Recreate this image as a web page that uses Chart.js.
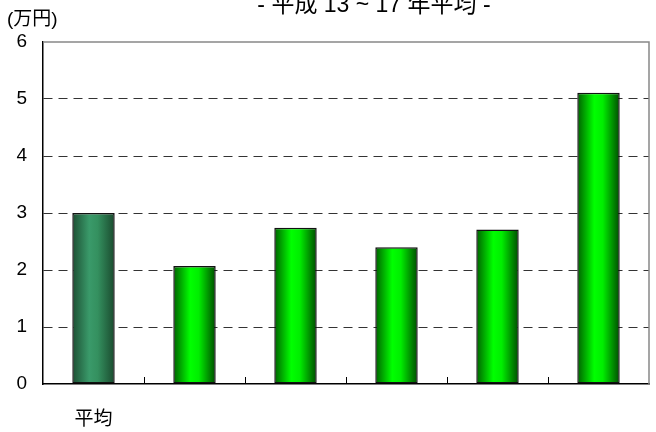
<!DOCTYPE html>
<html>
<head>
<meta charset="utf-8">
<script src="https://cdn.jsdelivr.net/npm/chart.js@4/dist/chart.umd.min.js"></script>
<style>
  html, body { margin: 0; padding: 0; background: #fff; }
</style>
</head>
<body>
<canvas id="avgChart" width="656" height="432"></canvas>
<script>
const categories = ["平均", "", "", "", "", ""];
const values = [3.0, 2.07, 2.74, 2.4, 2.71, 5.11];
const yTicks = [0, 1, 2, 3, 4, 5, 6];
const titleText = "- 平成 13 ~ 17 年平均 -";
const unitText = "(万円)";

const FONT = "'Liberation Sans Narrow', 'Liberation Sans', 'Noto Sans CJK JP', sans-serif";

// horizontal "cylinder" gradient for each bar
function barGradient(context) {
  const chart = context.chart;
  const x = chart.scales.x;
  if (!x || !chart.chartArea) return "#00dd00";
  const cx = x.getPixelForValue(context.dataIndex);
  const half = (x.width / categories.length) * 0.42 / 2;
  const g = chart.ctx.createLinearGradient(cx - half, 0, cx + half, 0);
  if (context.dataIndex === 0) {
    g.addColorStop(0, "#1c4f33");
    g.addColorStop(0.4, "#3a9a6a");
    g.addColorStop(0.6, "#34905f");
    g.addColorStop(1, "#1a4a2e");
  } else {
    g.addColorStop(0, "#006000");
    g.addColorStop(0.4, "#00ff00");
    g.addColorStop(0.6, "#00ee00");
    g.addColorStop(1, "#004c00");
  }
  return g;
}

// frame, inside category ticks, title and unit label
const decorations = {
  id: "decorations",
  afterDatasetsDraw(chart) {
    const { ctx, chartArea } = chart;
    const x = chart.scales.x;
    ctx.save();
    // gray top / right frame
    ctx.strokeStyle = "#888";
    ctx.lineWidth = 1.5;
    ctx.beginPath();
    ctx.moveTo(chartArea.left, chartArea.top);
    ctx.lineTo(chartArea.right, chartArea.top);
    ctx.lineTo(chartArea.right, chartArea.bottom);
    ctx.stroke();
    // small ticks between categories, pointing up
    ctx.strokeStyle = "#000";
    ctx.lineWidth = 1;
    for (let i = 0; i < categories.length - 1; i++) {
      const px = Math.round((x.getPixelForValue(i) + x.getPixelForValue(i + 1)) / 2) + 0.5;
      ctx.beginPath();
      ctx.moveTo(px, chartArea.bottom);
      ctx.lineTo(px, chartArea.bottom - 7);
      ctx.stroke();
    }
    // texts
    ctx.fillStyle = "#000";
    ctx.textBaseline = "alphabetic";
    ctx.font = "23px " + FONT;
    ctx.textAlign = "center";
    ctx.fillText(titleText, 374, 12);
    ctx.textAlign = "left";
    ctx.textBaseline = "middle";
    ctx.font = "19px " + FONT;
    ctx.fillText(unitText, 7, 20);
    ctx.restore();
  }
};

new Chart(document.getElementById("avgChart"), {
  type: "bar",
  data: {
    labels: categories,
    datasets: [
      {
        data: values,
        backgroundColor: barGradient,
        borderColor: "#111",
        borderWidth: 1.5,
        borderSkipped: false,
        categoryPercentage: 1,
        barPercentage: 0.42,
      },
    ],
  },
  options: {
    responsive: false,
    animation: false,
    layout: {
      padding: { top: 42, right: 7, left: 0, bottom: 0 },
    },
    scales: {
      x: {
        grid: { display: false, drawTicks: false },
        border: { color: "#000", width: 1.5 },
        ticks: {
          color: "#000",
          padding: 24,
          font: { family: FONT, size: 19 },
          maxRotation: 0,
          autoSkip: false,
        },
        afterFit: function (scale) {
          scale.height = 48;
        },
      },
      y: {
        min: 0,
        max: 6,
        afterBuildTicks: function (scale) {
          scale.ticks = yTicks.map(function (v) { return { value: v }; });
        },
        grid: {
          drawTicks: false,
          color: function (c) {
            const v = c.tick ? c.tick.value : 0;
            return v === 0 || v === 6 ? "rgba(0,0,0,0)" : "#333";
          },
        },
        border: { color: "#000", width: 1.5, dash: [9, 6] },
        ticks: {
          color: "#000",
          padding: 16,
          font: { family: FONT, size: 19 },
        },
        afterFit: function (scale) {
          scale.width = 43;
        },
      },
    },
    plugins: {
      legend: { display: false },
      tooltip: { enabled: false },
    },
  },
  plugins: [decorations],
});
</script>
</body>
</html>
